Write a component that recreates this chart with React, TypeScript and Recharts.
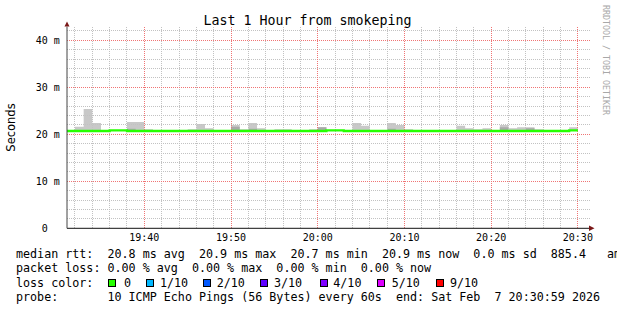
import React from 'react';
import { ComposedChart, Area, Line, XAxis, YAxis, ReferenceLine } from 'recharts';

// one sample per minute (step starts at the given time)
const times = [
  '19:31', '19:32', '19:33', '19:34', '19:35', '19:36', '19:37', '19:38', '19:39', '19:40',
  '19:41', '19:42', '19:43', '19:44', '19:45', '19:46', '19:47', '19:48', '19:49', '19:50',
  '19:51', '19:52', '19:53', '19:54', '19:55', '19:56', '19:57', '19:58', '19:59', '20:00',
  '20:01', '20:02', '20:03', '20:04', '20:05', '20:06', '20:07', '20:08', '20:09', '20:10',
  '20:11', '20:12', '20:13', '20:14', '20:15', '20:16', '20:17', '20:18', '20:19', '20:20',
  '20:21', '20:22', '20:23', '20:24', '20:25', '20:26', '20:27', '20:28', '20:29', '20:30',
];

// median rtt (ms)
const median = [
  20.7, 20.7, 20.7, 20.7, 20.7, 20.85, 20.85, 20.7, 20.7, 20.7,
  20.7, 20.7, 20.7, 20.7, 20.7, 20.7, 20.7, 20.7, 20.7, 20.7,
  20.7, 20.7, 20.7, 20.7, 20.7, 20.7, 20.7, 20.7, 20.7, 20.7,
  20.85, 20.85, 20.7, 20.7, 20.7, 20.7, 20.7, 20.7, 20.7, 20.7,
  20.7, 20.7, 20.7, 20.7, 20.7, 20.7, 20.7, 20.7, 20.7, 20.7,
  20.7, 20.7, 20.7, 20.7, 20.7, 20.7, 20.7, 20.7, 20.85, 20.85,
];

// top of the smoke (highest ping, ms)
const smokeMax = [
  20.7, 21.6, 25.4, 22.4, 20.7, 20.85, 20.85, 22.6, 22.6, 21.1,
  20.7, 20.7, 20.7, 20.7, 21.1, 22.2, 21.3, 20.7, 20.7, 22.0,
  21.1, 22.4, 21.3, 20.7, 21.1, 21.1, 20.7, 20.7, 21.1, 21.5,
  20.85, 20.85, 20.7, 22.4, 21.8, 20.7, 20.7, 22.4, 22.0, 21.1,
  20.7, 20.7, 20.7, 20.7, 20.7, 21.8, 21.3, 21.1, 21.3, 20.7,
  22.0, 21.3, 21.5, 21.5, 21.1, 20.7, 20.7, 20.7, 21.5, 21.5,
];

// denser (darker) part of the smoke (ms)
const smokeDark = [
  20.7, 20.7, 20.7, 20.7, 20.7, 20.85, 20.85, 21.2, 20.7, 20.7,
  20.7, 20.7, 20.7, 20.7, 20.7, 20.7, 20.7, 20.7, 20.7, 21.6,
  20.7, 21.2, 20.7, 20.7, 20.7, 20.7, 20.7, 20.7, 20.7, 21.5,
  20.85, 20.85, 20.7, 20.7, 20.7, 20.7, 20.7, 21.2, 20.7, 20.7,
  20.7, 20.7, 20.7, 20.7, 20.7, 20.7, 20.7, 20.7, 20.7, 20.7,
  21.5, 20.7, 20.7, 21.3, 20.7, 20.7, 20.7, 20.7, 20.7, 20.7,
];

const xTickLabels = ['19:40', '19:50', '20:00', '20:10', '20:20', '20:30'];
const xMinorLabels = [
  '19:32', '19:34', '19:36', '19:38', '19:42', '19:44', '19:46', '19:48',
  '19:52', '19:54', '19:56', '19:58', '20:02', '20:04', '20:06', '20:08',
  '20:12', '20:14', '20:16', '20:18', '20:22', '20:24', '20:26', '20:28',
];
const yTickValues = [0, 10, 20, 30, 40];
const yTickLabels = ['0', '10 m', '20 m', '30 m', '40 m'];
const yMajorValues = [10, 20, 30, 40];
const yMinorValues = [2, 4, 6, 8, 12, 14, 16, 18, 22, 24, 26, 28, 32, 34, 36, 38, 42];

const lossLabels = ['0', '1/10', '2/10', '3/10', '4/10', '5/10', '9/10'];
const lossColors = ['#26ff00', '#00b8ff', '#0059ff', '#5e00ff', '#7e00ff', '#dd00ff', '#ff0000'];

const legendLines = [
  'median rtt:  20.8 ms avg  20.9 ms max  20.7 ms min  20.9 ms now  0.0 ms sd  885.4   am/s',
  'packet loss: 0.00 % avg  0.00 % max  0.00 % min  0.00 % now',
  'loss color:',
  'probe:       10 ICMP Echo Pings (56 Bytes) every 60s  end: Sat Feb  7 20:30:59 2026',
];

const toMin = (s: string) => {
  const [h, m] = s.split(':').map(Number);
  return h * 60 + m - (19 * 60 + 32);
};

const table = times.map((t, i) => ({
  t: toMin(t),
  median: median[i],
  smoke: [median[i], smokeMax[i]],
  dark: [median[i], smokeDark[i]],
}));

const xTickValues = xTickLabels.map(toMin);
const xMinorValues = xMinorLabels.map(toMin);

const MONO = '"DejaVu Sans Mono", monospace';
const MAJOR = '#f07474';
const MINOR = '#c2c2c2';

const XTick = (props: any) => {
  const { x, y, index } = props;
  return (
    <text x={x} y={y + 12.7} textAnchor="middle" fontFamily={MONO} fontSize={10} fill="#000">
      {xTickLabels[index]}
    </text>
  );
};

const YTick = (props: any) => {
  const { x, y, index } = props;
  const label = yTickLabels[index];
  const start = label.length === 1 ? x - 25.3 : x - 31.3;
  return (
    <text x={start} y={y + 3.6} textAnchor="start" fontFamily={MONO} fontSize={10} fill="#000">
      {label}
    </text>
  );
};

const lossBoxX = [108.5, 146, 203, 260.5, 320, 377.5, 436];
const lossTextX = [124, 160, 216.7, 274, 333.3, 391.7, 450];

const gridLine = (key: string, props: any, color: string) => (
  <ReferenceLine
    key={key}
    {...props}
    stroke={color}
    strokeWidth={1}
    strokeDasharray="1 1"
    shapeRendering="crispEdges"
  />
);

export default function App() {
  return (
    <div style={{ position: 'absolute', left: 0, top: 0, width: 617, height: 310, background: '#fff' }}>
      <ComposedChart
        width={617}
        height={310}
        data={table}
        margin={{ top: 26.7, right: 27, left: 0, bottom: 0 }}
      >
        {yMinorValues.map((v) => gridLine('my' + v, { y: v }, MINOR))}
        {xMinorValues.map((v) => gridLine('mx' + v, { x: v }, MINOR))}
        {yMajorValues.map((v) => gridLine('My' + v, { y: v }, MAJOR))}
        {xTickValues.map((v) => gridLine('Mx' + v, { x: v }, MAJOR))}
        <XAxis
          type="number"
          dataKey="t"
          domain={[-0.92, 59.4]}
          allowDataOverflow
          ticks={xTickValues}
          tick={<XTick />}
          tickLine={false}
          tickSize={0}
          tickMargin={0}
          height={81.7}
          axisLine={{ stroke: '#111', strokeWidth: 1 }}
          interval={0}
        />
        <YAxis
          type="number"
          domain={[0, 42.9]}
          allowDataOverflow
          ticks={yTickValues}
          tick={<YTick />}
          tickLine={false}
          tickSize={0}
          tickMargin={0}
          width={67}
          axisLine={{ stroke: '#444', strokeWidth: 1 }}
          interval={0}
        />
        <Area type="stepAfter" dataKey="smoke" stroke="none" fill="#c8c8c8" fillOpacity={1} isAnimationActive={false} activeDot={false} />
        <Area type="stepAfter" dataKey="dark" stroke="none" fill="#a9a9a9" fillOpacity={1} isAnimationActive={false} activeDot={false} />
        <Line type="stepAfter" dataKey="median" stroke="#26ff00" strokeWidth={2.3} dot={false} activeDot={false} isAnimationActive={false} />
      </ComposedChart>
      <svg width={617} height={310} style={{ position: 'absolute', left: 0, top: 0, pointerEvents: 'none' }}>
        <text x={307.5} y={25} textAnchor="middle" fontFamily={MONO} fontSize={13.3} fill="#000">
          Last 1 Hour from smokeping
        </text>
        <text x={14.5} y={127.5} textAnchor="middle" fontFamily='"DejaVu Sans", sans-serif' fontSize={11.5} fill="#000" transform="rotate(-90 14.5 127.5)">
          Seconds
        </text>
        <text x={603} y={5} textAnchor="start" fontFamily={MONO} fontSize={8.3} fill="#a8a8a8" transform="rotate(90 603 5)">
          RRDTOOL / TOBI OETIKER
        </text>
        <polygon points="64.5,26.5 69.5,26.5 67,21.5" fill="#7a1818" />
        <polygon points="589,225.5 589,231 594.5,228.3" fill="#7a1818" />
        {legendLines.map((line, i) => (
          <text key={i} x={16} y={258 + i * 14.3} fontFamily={MONO} fontSize={11.7} fill="#000" style={{ whiteSpace: 'pre' }}>
            {line}
          </text>
        ))}
        {lossLabels.map((lab, i) => (
          <g key={lab}>
            <rect x={lossBoxX[i]} y={279.5} width={7} height={7} fill={lossColors[i]} stroke="#000" strokeWidth={1} shapeRendering="crispEdges" />
            <text x={lossTextX[i]} y={286.6} fontFamily={MONO} fontSize={11.7} fill="#000">
              {lab}
            </text>
          </g>
        ))}
      </svg>
    </div>
  );
}
